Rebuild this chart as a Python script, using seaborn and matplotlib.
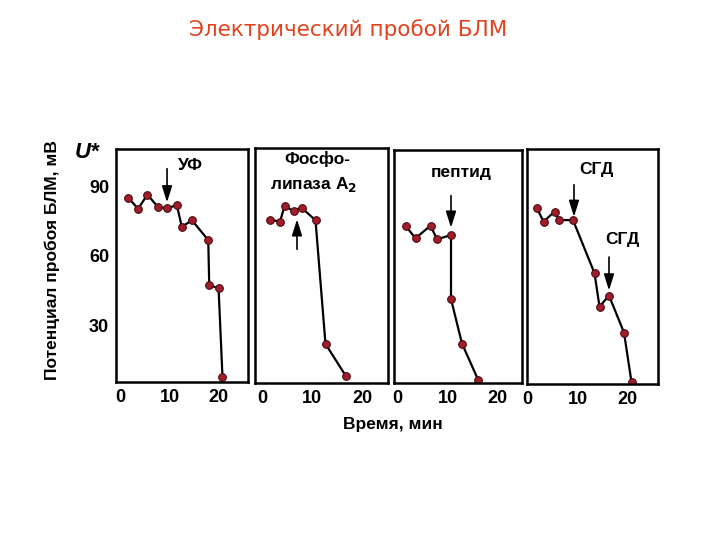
import matplotlib
matplotlib.use('Agg')
import matplotlib.pyplot as plt
import seaborn as sns

title = 'Электрический пробой БЛМ'
ylabel = 'Потенциал пробоя БЛМ, мВ'
xlabel = 'Время, мин'

# panel 1: УФ
uv_t = [1.6, 3.6, 5.5, 7.6, 9.5, 11.5, 12.5, 14.6, 17.9, 18.1, 20.0, 20.8]
uv_u = [85.0, 80.2, 86.3, 81.1, 80.4, 81.8, 72.5, 75.2, 66.7, 47.3, 45.9, 7.8]

# panel 2: фосфолипаза A2
pla_t = [1.5, 3.6, 4.5, 6.3, 7.9, 10.7, 12.7, 16.8]
pla_u = [75.4, 74.5, 81.1, 79.1, 80.5, 75.1, 22.2, 8.4]

# panel 3: пептид
pep_t = [1.7, 3.6, 6.6, 7.9, 10.7, 10.7, 12.9, 16.1]
pep_u = [73.1, 67.9, 73.4, 67.5, 69.3, 41.7, 22.5, 7.0]

# panel 4: СГД
sgd_t = [1.9, 3.2, 5.4, 6.3, 9.1, 13.4, 14.4, 16.3, 19.3, 20.8]
sgd_u = [80.7, 74.9, 79.2, 75.6, 75.6, 52.9, 38.6, 43.3, 27.5, 6.3]

x_ticks = [0, 10, 20]
y_ticks = [30, 60, 90]

# arrows: (x, tail y, head y)
uv_arrows = [(9.5, 97.5, 83.0)]
pla_arrows = [(7.0, 62.7, 75.5)]
pep_arrows = [(10.7, 86.3, 72.5)]
sgd_arrows = [(9.3, 90.7, 77.0), (16.3, 59.8, 45.5)]

# labels: (x, y, text)
uv_labels = [(14.2, 98.9, 'УФ')]
pla_labels = [(11.0, 101.1, 'Фосфо-'), (10.4, 90.3, r'липаза A$_\mathbf{2}$')]
pep_labels = [(12.7, 96.3, 'пептид')]
sgd_labels = [(13.8, 97.2, 'СГД'), (19.0, 67.5, 'СГД')]

sns.set_theme(style='white')
plt.rcParams['font.family'] = ['Liberation Sans', 'DejaVu Sans']
plt.rcParams['font.weight'] = 'bold'
plt.rcParams['mathtext.default'] = 'bf'
plt.rcParams['text.color'] = 'black'

fig = plt.figure(figsize=(7.2, 5.4), dpi=100)
W, H = 720, 540

# pixel boxes (left, top, right, bottom)
boxes = [(116, 149, 248, 382), (255, 148, 388, 383), (394, 150, 522, 383), (527, 149, 658, 384)]
xlims = [(-0.9, 26.0), (-1.4, 25.2), (-0.7, 24.9), (-0.1, 26.1)]

panels = [
    (uv_t, uv_u, uv_arrows, uv_labels),
    (pla_t, pla_u, pla_arrows, pla_labels),
    (pep_t, pep_u, pep_arrows, pep_labels),
    (sgd_t, sgd_u, sgd_arrows, sgd_labels),
]

for i, (box, xl, (t, u, arrows, labels)) in enumerate(zip(boxes, xlims, panels)):
    l, tp, r, b = box
    ax = fig.add_axes([l / W, 1 - b / H, (r - l) / W, (b - tp) / H])
    sns.lineplot(x=t, y=u, ax=ax, sort=False, estimator=None, color='black', lw=1.6,
                 marker='o', markersize=5.5, markerfacecolor='#a11d2b',
                 markeredgecolor='#4a0c12', markeredgewidth=0.8)
    ax.set_xlim(*xl)
    ax.set_ylim(5.5, 106)
    ax.set_xticks(x_ticks)
    if i == 0:
        ax.set_yticks(y_ticks)
    else:
        ax.set_yticks([])
    ax.tick_params(direction='in', length=6, width=1.5, labelsize=13, pad=5,
                   color='black', labelcolor='black')
    for lab in ax.get_xticklabels() + ax.get_yticklabels():
        lab.set_fontweight('bold')
    for s in ax.spines.values():
        s.set_visible(True)
        s.set_color('black')
        s.set_linewidth(1.8)
    for x, y0, y1 in arrows:
        ax.annotate('', xy=(x, y1), xytext=(x, y0),
                    arrowprops=dict(arrowstyle='-|>,head_length=0.7,head_width=0.22',
                                    color='black', lw=1.2, shrinkA=0, shrinkB=0,
                                    mutation_scale=14))
    for x, y, s in labels:
        ax.text(x, y, s, ha='center', va='center', fontsize=12.5, fontweight='bold',
                color='black')
    ax.set_xlabel('')
    ax.set_ylabel('')

fig.text(348 / W, 1 - 30 / H, title, ha='center', va='center', fontsize=15.5,
         fontweight='normal', color='#e2431e', family=['DejaVu Sans'])
fig.text(87 / W, 1 - 152 / H, 'U*', ha='center', va='center', fontsize=16,
         fontweight='bold', style='italic', color='black')
fig.text(52 / W, 1 - 260 / H, ylabel, ha='center', va='center', rotation=90,
         fontsize=12.5, fontweight='bold', color='black')
fig.text(393 / W, 1 - 424 / H, xlabel, ha='center', va='center',
         fontsize=12.5, fontweight='bold', color='black')

fig.savefig('out.png', dpi=100)
